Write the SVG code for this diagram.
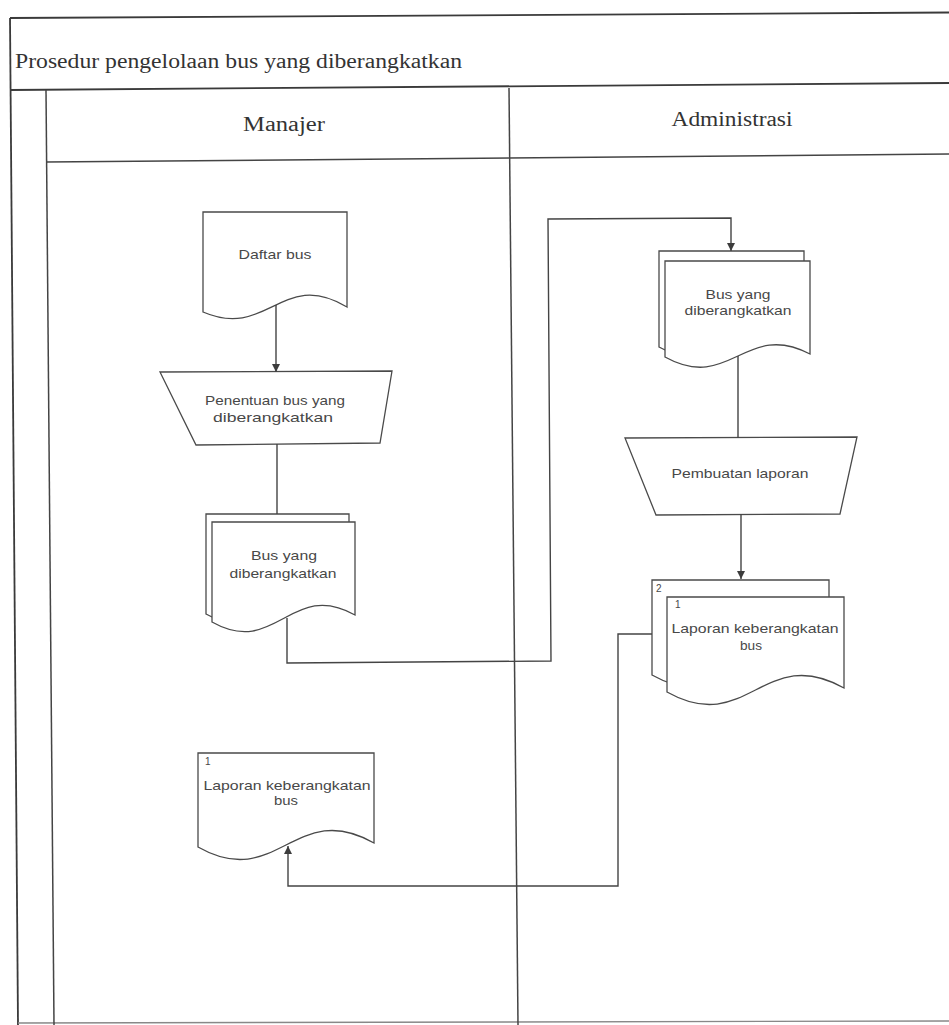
<svg xmlns="http://www.w3.org/2000/svg" width="949" height="1025" viewBox="0 0 949 1025">
  <defs>
    <marker id="arrow" viewBox="0 0 10 10" refX="10" refY="5" markerWidth="8" markerHeight="8" markerUnits="userSpaceOnUse" orient="auto">
      <path d="M0,0 L10,5 L0,10 Z" fill="#3c3c3c"/>
    </marker>
    <style>
      .frame{fill:none;stroke:#3a3a3a;stroke-width:1.8}
      .lane{fill:none;stroke:#444;stroke-width:1.5}
      .edge{fill:none;stroke:#888;stroke-width:1.4}
      .shape{fill:#fff;stroke:#4a4a4a;stroke-width:1.3}
      .conn{fill:none;stroke:#444;stroke-width:1.4}
      .serif{font-family:"Liberation Serif","Times New Roman",serif;fill:#333;font-size:20px}
      .head{text-anchor:middle}
      .sans{font-family:"Liberation Sans",Arial,sans-serif;fill:#484848;font-size:13.5px;text-anchor:middle}
      .num{font-family:"Liberation Sans",Arial,sans-serif;fill:#484848;font-size:10px}
    </style>
  </defs>

  <rect width="949" height="1025" fill="#fff"/>

  <!-- pool frame and title bar -->
  <g id="frame">
    <path class="frame" d="M10,18 L949,12.5"/>
    <path class="frame" d="M10,18 L18,1025"/>
    <path class="frame" d="M10,90 L949,83"/>
    <path class="edge" d="M18,1023 L949,1021"/>
    <text class="serif" x="15" y="68" textLength="447" lengthAdjust="spacingAndGlyphs">Prosedur pengelolaan bus yang diberangkatkan</text>
  </g>

  <!-- swimlanes -->
  <g id="lanes">
    <path class="lane" d="M46,90 L54,1025"/>
    <path class="lane" d="M509,88 L518,1025"/>
    <path class="lane" d="M46,162 L949,154"/>
    <text class="serif head" x="284" y="131" textLength="82" lengthAdjust="spacingAndGlyphs">Manajer</text>
    <text class="serif head" x="732" y="126" textLength="121" lengthAdjust="spacingAndGlyphs">Administrasi</text>
  </g>

  <!-- Manajer lane -->
  <g id="daftar-bus">
    <path class="shape" d="M203,212 H347 V307 C282,268 268,340 203,312 Z"/>
    <text class="sans" x="275" y="259" textLength="73" lengthAdjust="spacingAndGlyphs">Daftar bus</text>
  </g>

  <g id="penentuan-bus">
    <polygon class="shape" points="160,372 392,371 380,443 196,445"/>
    <text class="sans" x="275" y="405" textLength="140" lengthAdjust="spacingAndGlyphs">Penentuan bus yang</text>
    <text class="sans" x="273" y="422" textLength="120" lengthAdjust="spacingAndGlyphs">diberangkatkan</text>
  </g>

  <g id="bus-diberangkatkan-manajer">
    <path class="shape" d="M206,514 H349 V607 C285,571 270,650 206,614 Z"/>
    <path class="shape" d="M212,522 H355 V615 C291,579 276,658 212,622 Z"/>
    <text class="sans" x="284" y="560" textLength="66" lengthAdjust="spacingAndGlyphs">Bus yang</text>
    <text class="sans" x="283" y="578" textLength="107" lengthAdjust="spacingAndGlyphs">diberangkatkan</text>
  </g>

  <g id="laporan-manajer">
    <path class="shape" d="M198,753 H374 V843 C295,798 277,892 198,847 Z"/>
    <text class="num" x="205" y="765">1</text>
    <text class="sans" x="287" y="790" textLength="167" lengthAdjust="spacingAndGlyphs">Laporan keberangkatan</text>
    <text class="sans" x="286" y="805" textLength="24" lengthAdjust="spacingAndGlyphs">bus</text>
  </g>

  <!-- Administrasi lane -->
  <g id="bus-diberangkatkan-admin">
    <path class="shape" d="M659,251 H804 V344 C739,310 724,383 659,347 Z"/>
    <path class="shape" d="M665,261 H810 V354 C745,320 730,393 665,357 Z"/>
    <text class="sans" x="738" y="299" textLength="65" lengthAdjust="spacingAndGlyphs">Bus yang</text>
    <text class="sans" x="738" y="315" textLength="107" lengthAdjust="spacingAndGlyphs">diberangkatkan</text>
  </g>

  <g id="pembuatan-laporan">
    <polygon class="shape" points="625,438 857,437 840,514 656,515"/>
    <text class="sans" x="740" y="478" textLength="137" lengthAdjust="spacingAndGlyphs">Pembuatan laporan</text>
  </g>

  <g id="laporan-admin">
    <path class="shape" d="M652,580 H829 V671 C749,626 732,720 652,675 Z"/>
    <path class="shape" d="M667,597 H844 V688 C764,643 747,737 667,692 Z"/>
    <text class="num" x="656" y="592">2</text>
    <text class="num" x="675" y="608">1</text>
    <text class="sans" x="755" y="633" textLength="167" lengthAdjust="spacingAndGlyphs">Laporan keberangkatan</text>
    <text class="sans" x="751" y="650" textLength="22" lengthAdjust="spacingAndGlyphs">bus</text>
  </g>

  <!-- flow lines -->
  <g id="connectors">
    <path class="conn" d="M276,305 V372" marker-end="url(#arrow)"/>
    <path class="conn" d="M277,444 V514"/>
    <path class="conn" d="M287,618 V663 L551,661 L548,219 L731,218 V251" marker-end="url(#arrow)"/>
    <path class="conn" d="M738,356 V438"/>
    <path class="conn" d="M741,514 V579" marker-end="url(#arrow)"/>
    <path class="conn" d="M652,634 H618 V886 H288 V846" marker-end="url(#arrow)"/>
  </g>
</svg>
